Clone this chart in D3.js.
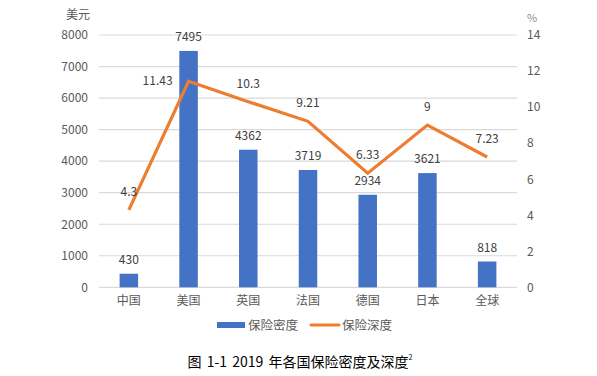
<!DOCTYPE html>
<html><head><meta charset="utf-8">
<script src="https://cdn.jsdelivr.net/npm/d3@7"></script>
<style>body{margin:0;background:#fff}svg{display:block}</style>
</head><body>
<script>
const categories = ["中国","美国","英国","法国","德国","日本","全球"];
const density = [430,7495,4362,3719,2934,3621,818];
const depth = [4.3,11.43,10.3,9.21,6.33,9,7.23];
const leftTicks = [0,1000,2000,3000,4000,5000,6000,7000,8000];
const rightTicks = [0,2,4,6,8,10,12,14];

const W=597,H=376;
const font='"Noto Sans CJK SC","Noto Sans",sans-serif';
const svg=d3.select("body").append("svg").attr("width",W).attr("height",H).style("font-family",font);
const x=d3.scaleBand().domain(categories).range([99,517]);
const yL=d3.scaleLinear().domain([0,8000]).range([287.3,35]);
const yR=d3.scaleLinear().domain([0,14]).range([287.3,35]);
const grey="#595959";

// gridlines
svg.append("g").selectAll("line").data(leftTicks).join("line")
 .attr("x1",99).attr("x2",517).attr("y1",d=>yL(d)).attr("y2",d=>yL(d))
 .attr("stroke","#d9d9d9").attr("stroke-width",1.2);

// left axis
const la=svg.append("g").attr("transform","translate(99,0)")
 .call(d3.axisLeft(yL).tickValues(leftTicks).tickSize(0).tickPadding(11).tickFormat(d3.format("d")));
la.select(".domain").remove();
la.selectAll("text").attr("fill",grey).style("font-size","12px").style("font-family",font);

// right axis
const ra=svg.append("g").attr("transform","translate(517,0)")
 .call(d3.axisRight(yR).tickValues(rightTicks).tickSize(0).tickPadding(10).tickFormat(d3.format("d")));
ra.select(".domain").remove();
ra.selectAll("text").attr("fill",grey).style("font-size","12px").style("font-family",font);

// x axis
const xa=svg.append("g").attr("transform","translate(0,287.3)")
 .call(d3.axisBottom(x).tickSize(0).tickPadding(9));
xa.select(".domain").remove();
xa.selectAll("text").attr("fill",grey).style("font-size","12px").style("font-family",font);

// unit labels
svg.append("text").attr("x",78).attr("y",19).attr("text-anchor","middle").attr("fill",grey).style("font-size","12px").text("美元");
svg.append("text").attr("x",532).attr("y",22).attr("text-anchor","middle").attr("fill","#8c8c8c").style("font-size","11px").text("%");

// bars
const bw=18.5;
svg.append("g").selectAll("rect").data(density).join("rect")
 .attr("x",(d,i)=>x(categories[i])+x.bandwidth()/2-bw/2)
 .attr("width",bw)
 .attr("y",d=>yL(d)).attr("height",d=>yL(0)-yL(d))
 .attr("fill","#4472c4");
svg.append("g").selectAll("text").data(density).join("text")
 .attr("x",(d,i)=>x(categories[i])+x.bandwidth()/2)
 .attr("y",d=>yL(d)-10)
 .attr("text-anchor","middle").attr("fill","#404040").style("font-size","12px")
 .text(d=>d);

// line
const cx=i=>x(categories[i])+x.bandwidth()/2;
svg.append("path").datum(depth)
 .attr("d",d3.line().x((d,i)=>cx(i)).y(d=>yR(d)))
 .attr("fill","none").attr("stroke","#ed7d31").attr("stroke-width",3.2).attr("stroke-linejoin","miter");
svg.append("g").selectAll("text").data(depth).join("text")
 .attr("x",(d,i)=>i===1?cx(i)-16:cx(i))
 .attr("y",(d,i)=>i===1?yR(d)+4:yR(d)-14)
 .attr("text-anchor",(d,i)=>i===1?"end":"middle")
 .attr("fill","#404040").style("font-size","12px")
 .text(d=>d);

// legend
svg.append("rect").attr("x",217).attr("y",322).attr("width",28).attr("height",6).attr("fill","#4472c4");
svg.append("text").attr("x",248).attr("y",329.5).attr("fill",grey).style("font-size","12.5px").text("保险密度");
svg.append("line").attr("x1",311).attr("x2",339).attr("y1",325).attr("y2",325).attr("stroke","#ed7d31").attr("stroke-width",3).attr("stroke-linecap","round");
svg.append("text").attr("x",342).attr("y",329.5).attr("fill",grey).style("font-size","12.5px").text("保险深度");

// title
const t=svg.append("text").attr("x",300).attr("y",367).attr("text-anchor","middle").attr("fill","#000").style("font-size","14px").style("word-spacing","2px");
t.append("tspan").text("图 1-1 2019 年各国保险密度及深度");
t.append("tspan").attr("dy",-7).style("font-size","7px").text("2");
</script>
</body></html>
